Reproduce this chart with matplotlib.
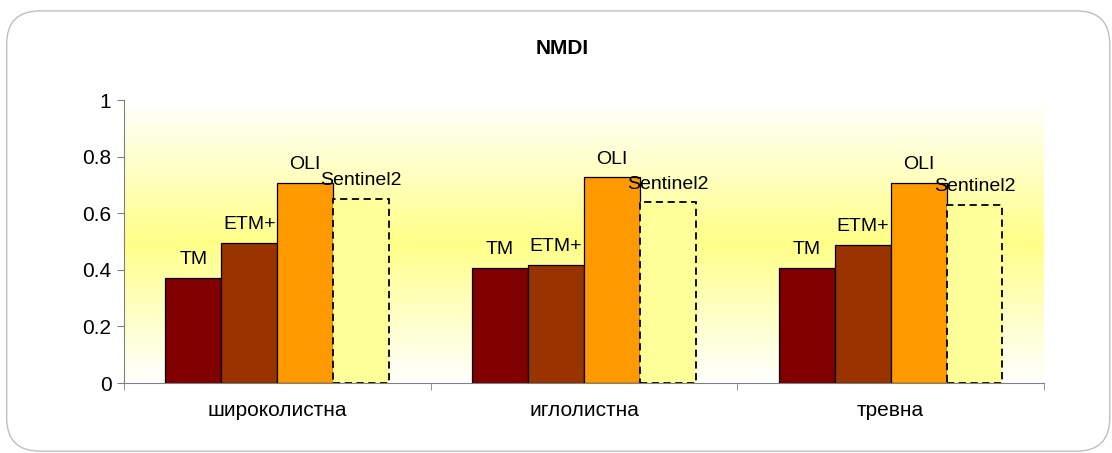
import numpy as np
import matplotlib
matplotlib.use("Agg")
import matplotlib.pyplot as plt
from matplotlib.colors import LinearSegmentedColormap
from matplotlib.patches import FancyBboxPatch

plt.rcParams['font.family'] = ['Liberation Sans', 'DejaVu Sans']

categories = ['широколистна', 'иглолистна', 'тревна']
sensors = ['TM', 'ETM+', 'OLI', 'Sentinel2']
values = {
    'TM':        [0.371, 0.407, 0.407],
    'ETM+':      [0.494, 0.417, 0.488],
    'OLI':       [0.706, 0.727, 0.708],
    'Sentinel2': [0.652, 0.638, 0.629],
}
colors = ['#800000', '#993300', '#FF9900', '#FFFF99']

fig = plt.figure(figsize=(11.12, 4.53), dpi=100)
ax = fig.add_axes([0.1115, 0.1545, 0.8273, 0.6247])

# rounded outer border
border = FancyBboxPatch((0.006, 0.004), 0.992, 0.972,
                        boxstyle="round,pad=0,rounding_size=0.03",
                        transform=fig.transFigure, facecolor='none',
                        edgecolor='#BFBFBF', linewidth=1.0, mutation_aspect=2.45)
fig.patches.append(border)

# gradient plot area
cmap = LinearSegmentedColormap.from_list('bg', [(0, '#FFFFFF'), (0.5, '#FFFF88'), (1, '#FFFFFF')])
grad = np.linspace(0, 1, 256).reshape(-1, 1)
ax.imshow(grad, extent=[-0.5, 2.5, 0, 1], origin='lower', aspect='auto',
          cmap=cmap, zorder=0)

x = np.arange(len(categories))
w = 0.1824
for i, s in enumerate(sensors):
    pos = x + (i - 1.5) * w
    if s == 'Sentinel2':
        ax.bar(pos, values[s], w, color=colors[i], edgecolor='black',
               linestyle=(0, (4, 2.5)), linewidth=1.3, zorder=2)
    else:
        ax.bar(pos, values[s], w, color=colors[i], edgecolor='black',
               linewidth=0.9, zorder=2)
    for xp, v in zip(pos, values[s]):
        ax.annotate(s, (xp, v), xytext=(0, 7), textcoords='offset points',
                    ha='center', va='bottom', fontsize=14)

ax.set_xlim(-0.5, 2.5)
ax.set_ylim(0, 1)
ax.set_yticks([0, 0.2, 0.4, 0.6, 0.8, 1])
ax.set_yticklabels(['0', '0.2', '0.4', '0.6', '0.8', '1'])
ax.set_xticks(x)
ax.set_xticklabels(categories)
ax.set_xticks([-0.5, 0.5, 1.5, 2.5], minor=True)
ax.tick_params(axis='x', which='major', length=0, pad=13, labelsize=15)
ax.tick_params(axis='x', which='minor', length=5, color='#808080')
ax.tick_params(axis='y', length=5, color='#808080', labelsize=15, pad=4)

for sp in ['top', 'right']:
    ax.spines[sp].set_visible(False)
for sp in ['left', 'bottom']:
    ax.spines[sp].set_color('#808080')

fig.text(0.506, 0.894, 'NMDI', fontsize=15, fontweight='bold',
         ha='center', va='center')

fig.savefig('out.png', dpi=100)
